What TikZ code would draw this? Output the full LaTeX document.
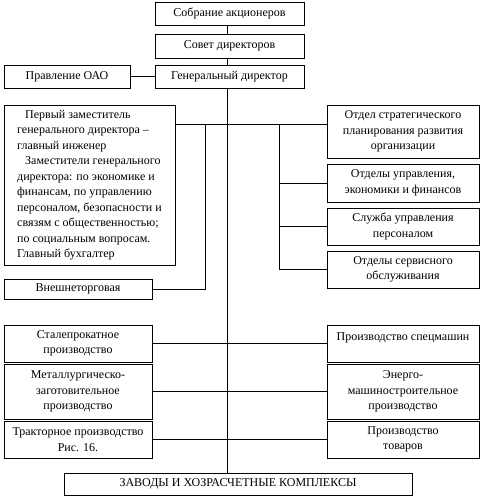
\documentclass[tikz,border=0pt]{standalone}
\usepackage{fontspec}
\setmainfont{Liberation Serif}
\usepackage{xcolor}

\begin{document}
\begin{tikzpicture}[x=1pt,y=-1pt,line width=0.8pt,
        box/.style={draw, rectangle, inner sep=1pt, align=center,
            font=\rmfamily\fontsize{12}{15.5}\selectfont},
        wide/.style={minimum width=149pt},
        side/.style={minimum width=148pt},
        rbox/.style={minimum width=152pt}]
        \useasboundingbox (0,0) rectangle (481,500);
        % ствол схемы
        \coordinate (tr) at (227,0);

        % верхние уровни
        \node (sobr) at (229.5,13.5) [box,wide,minimum height=23pt] {Собрание акционеров};
        \node (sovet) at (229.5,46) [box,wide,minimum height=24pt] {Совет директоров};
        \node (gd) at (229.5,76.5) [box,wide,minimum height=23pt] {Генеральный директор};
        \node (prav) at (67,76.5) [box,minimum width=126pt,minimum height=23pt] {Правление ОАО};

        % заместители
        \node (zam) at (89.5,185) [box,minimum width=171pt,minimum height=160pt,align=left,inner sep=0pt]
            {\hspace*{8pt}Первый заместитель\\
             генерального директора –\\
             главный инженер\\
             \hspace*{8pt}Заместители генерального\\
             директора: по экономике и\\
             финансам, по управлению\\
             персоналом, безопасности и\\
             связям с общественностью;\\
             по социальным вопросам.\\
             Главный бухгалтер};
        \node (vnesh) at (78,289) [box,side,minimum height=20pt] {Внешнеторговая};

        % отделы справа
        \node (strat) at (403,131.5) [box,rbox,minimum height=53pt]
            {Отдел стратегического\\планирования развития\\организации};
        \node (ekon) at (403,183) [box,rbox,minimum height=38pt]
            {Отделы управления,\\экономики и финансов};
        \node (pers) at (403,226.5) [box,rbox,minimum height=37pt]
            {Служба управления\\персоналом};
        \node (serv) at (403,269.5) [box,rbox,minimum height=37pt]
            {Отделы сервисного\\обслуживания};

        % производства
        \node (stal) at (78,343.5) [box,side,minimum height=37pt] {Сталепрокатное\\производство};
        \node (spec) at (403,343.5) [box,rbox,minimum height=37pt,text height=14pt,text depth=21pt]
            {Производство спецмашин};
        \node (metal) at (78,391.5) [box,side,minimum height=55pt]
            {Металлургическо-\\заготовительное\\производство};
        \node (energ) at (403,391.5) [box,rbox,minimum height=55pt]
            {Энерго-\\машиностроительное\\производство};
        \node (trakt) at (78,439.5) [box,side,minimum height=37pt] {Тракторное производство\\Рис. 16.};
        \node (tovar) at (403,439.5) [box,rbox,minimum height=37pt] {Производство\\товаров};
        \node (zav) at (238,484) [box,minimum width=348pt,minimum height=22pt]
            {ЗАВОДЫ И ХОЗРАСЧЕТНЫЕ КОМПЛЕКСЫ};

        % связи
        \draw (sobr.south -| tr) -- (sovet.north -| tr);
        \draw (sovet.south -| tr) -- (gd.north -| tr);
        \draw (prav) -- (gd);
        \draw (gd.south -| tr) -- (zav.north -| tr);

        \coordinate (j) at (227,124);
        \coordinate (bL) at (205,124);
        \coordinate (bR) at (279,124);
        \draw (zam.east |- j) -- (strat.west |- j);
        \draw (bL) |- (vnesh.east);
        \draw (bR) |- (ekon.west);
        \draw (bR) |- (pers.west);
        \draw (bR) |- (serv.west);

        \draw (stal) -- (spec);
        \draw (metal) -- (energ);
        \draw (trakt) -- (tovar);
    \end{tikzpicture}
\end{document}
